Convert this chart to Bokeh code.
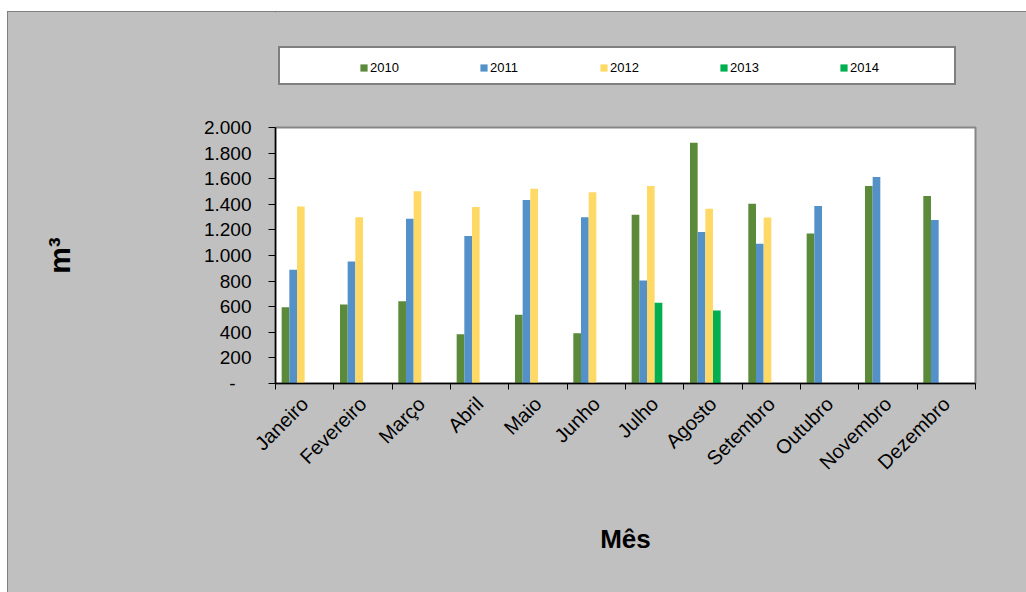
import math
import numpy as np
from bokeh.plotting import figure
from bokeh.layouts import column
from bokeh.models import (ColumnDataSource, FixedTicker, Legend, LegendItem, Range1d)
from bokeh.transform import dodge
from bokeh.embed import file_html
from bokeh.resources import INLINE

nan = np.nan

# ---------------- data ----------------
months = ["Janeiro", "Fevereiro", "Março", "Abril", "Maio", "Junho",
          "Julho", "Agosto", "Setembro", "Outubro", "Novembro", "Dezembro"]
series_names = ["2010", "2011", "2012", "2013", "2014"]
v2010 = [595, 618, 642, 384, 538, 392, 1319, 1881, 1405, 1171, 1543, 1465]
v2011 = [888, 953, 1288, 1153, 1434, 1299, 805, 1184, 1091, 1387, 1613, 1278]
v2012 = [1382, 1299, 1501, 1379, 1522, 1494, 1543, 1366, 1296, nan, nan, nan]
v2013 = [nan, nan, nan, nan, nan, nan, 631, 571, nan, nan, nan, nan]
v2014 = [nan, nan, nan, nan, nan, nan, nan, nan, nan, nan, nan, nan]
ytick_values = [0, 200, 400, 600, 800, 1000, 1200, 1400, 1600, 1800, 2000]
ytick_labels = ["-\u00a0\u00a0\u00a0", "200", "400", "600", "800", "1.000",
                "1.200", "1.400", "1.600", "1.800", "2.000"]

colors = ["#5A8A3A", "#5391C8", "#FFD966", "#00B050", "#00B050"]
FONT = "Liberation Sans"
PANEL = "#C0C0C0"

x_centers = [i + 0.5 for i in range(len(months))]
src = ColumnDataSource(dict(x=x_centers, month=months,
                            y2010=v2010, y2011=v2011, y2012=v2012,
                            y2013=v2013, y2014=v2014))

BL, BR = 267, 51   # left / right borders shared by both figures

# ---------------- legend strip ----------------
# its ranges lie far away from the data, so its bar renderers (used only
# for the legend swatches) draw nothing visible
top = figure(width=1018, height=100, output_backend="svg", toolbar_location=None,
             x_range=Range1d(1000, 1000 + len(months)), y_range=Range1d(-2, -1),
             x_axis_type=None, y_axis_type=None,
             min_border_left=BL, min_border_right=BR,
             min_border_top=0, min_border_bottom=0,
             background_fill_color=PANEL, border_fill_color=PANEL)
top.grid.visible = False
top.outline_line_color = None

# ---------------- main chart ----------------
p = figure(width=1018, height=480, output_backend="svg", toolbar_location=None,
           x_range=Range1d(0, len(months)), y_range=Range1d(0, 2000),
           min_border_left=BL, min_border_right=BR,
           min_border_top=15, min_border_bottom=209,
           background_fill_color="white", border_fill_color=PANEL)
p.outline_line_color = "#868686"
p.outline_line_width = 2
p.xgrid.visible = False
p.ygrid.visible = False

# bars: 6 slots per category (as in the original chart)
n_slots = 6
bar_w = 0.1315
legend_items = []
for i, (name, col) in enumerate(zip(series_names, colors)):
    off = (i - (n_slots - 1) / 2) * bar_w
    p.vbar(x=dodge("x", off), top="y" + name, width=bar_w, source=src,
           fill_color=col, line_color=None)
    swatch = top.vbar(x=dodge("x", off), top="y" + name, width=bar_w, source=src,
                      fill_color=col, line_color=None)
    legend_items.append(LegendItem(label=name, renderers=[swatch]))

# white legend frame with grey border
frame_r = top.vbar(x="x", top="y2010", width=bar_w, source=src,
                   fill_alpha=0, line_alpha=0)
box = Legend(items=[LegendItem(label="\u00a0", renderers=[frame_r])],
             orientation="horizontal", location=(3, 27),
             padding=10, margin=0, spacing=0,
             glyph_width=1, glyph_height=15, label_standoff=0,
             label_width=653, label_height=15,
             label_text_font=FONT, label_text_font_size="13px",
             background_fill_color="white", background_fill_alpha=1,
             border_line_color="#7F7F7F", border_line_alpha=1.0,
             border_line_width=2)
top.add_layout(box)

legend = Legend(items=legend_items, orientation="horizontal", location=(84, 37),
                padding=0, margin=0, spacing=9,
                glyph_width=9, glyph_height=9, label_standoff=2,
                label_width=100, label_height=15,
                label_text_font=FONT, label_text_font_size="13px",
                label_text_color="black",
                background_fill_alpha=0, border_line_alpha=0)
top.add_layout(legend)

# x axis
p.xaxis.ticker = FixedTicker(ticks=x_centers,
                             minor_ticks=list(range(len(months) + 1)))
p.xaxis.major_label_overrides = {x: m for x, m in zip(x_centers, months)}
p.xaxis.major_label_orientation = math.pi / 4
p.xaxis.major_tick_out = 0
p.xaxis.major_tick_in = 0
p.xaxis.minor_tick_out = 6
p.xaxis.minor_tick_in = 0
p.xaxis.minor_tick_line_color = "black"
p.xaxis.major_label_standoff = 11
p.xaxis.major_label_text_font = FONT
p.xaxis.major_label_text_font_size = "20px"
p.xaxis.major_label_text_color = "black"
p.xaxis.axis_label = "Mês"
p.xaxis.axis_label_text_font = FONT
p.xaxis.axis_label_text_font_size = "26px"
p.xaxis.axis_label_text_font_style = "bold"
p.xaxis.axis_label_text_color = "black"
p.xaxis.axis_label_standoff = 40

# y axis
p.yaxis.ticker = FixedTicker(ticks=ytick_values)
p.yaxis.major_label_overrides = {v: l for v, l in zip(ytick_values, ytick_labels)}
p.yaxis.major_tick_out = 7
p.yaxis.major_tick_in = 0
p.yaxis.minor_tick_line_color = None
p.yaxis.major_label_standoff = 17
p.yaxis.major_label_text_font = FONT
p.yaxis.major_label_text_font_size = "19px"
p.yaxis.major_label_text_color = "black"
p.yaxis.axis_label = "m³"
p.yaxis.axis_label_text_font = FONT
p.yaxis.axis_label_text_font_size = "30px"
p.yaxis.axis_label_text_font_style = "bold"
p.yaxis.axis_label_text_color = "black"
p.yaxis.axis_label_standoff = 125

for ax in (p.xaxis, p.yaxis):
    ax.axis_line_color = "black"
    ax.axis_line_width = 1.5
    ax.major_tick_line_color = "black"

layout = column(top, p, spacing=0, margin=(12, 0, 0, 8),
                styles={"background-color": PANEL,
                        "outline": "1px solid #808080"})

open("out.html", "w").write(file_html(layout, INLINE))
